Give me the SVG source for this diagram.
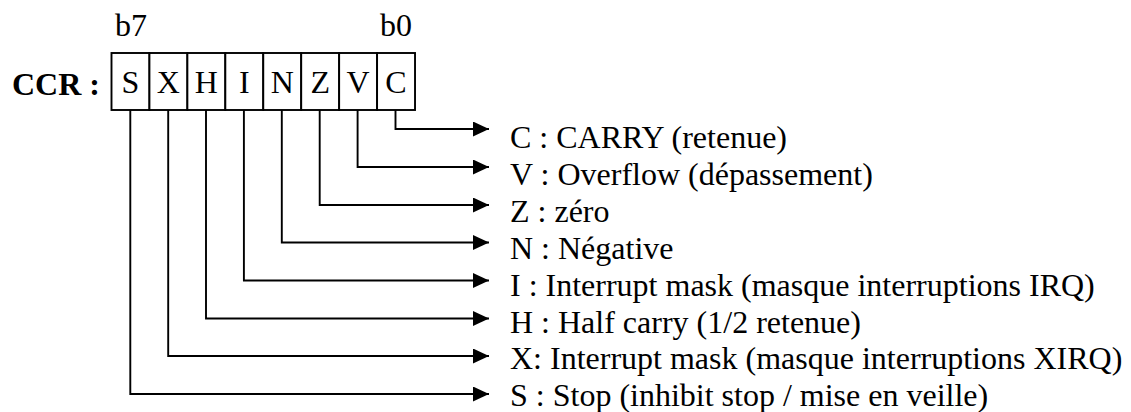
<svg xmlns="http://www.w3.org/2000/svg" width="1131" height="412" viewBox="0 0 1131 412">
<style>
text{font-family:"Liberation Serif","Times New Roman",serif;font-size:32px;fill:#000}
.b{font-weight:bold}
.cell{fill:#fff;stroke:#000;stroke-width:1.9}
.c{text-anchor:middle}
.conn path{fill:none;stroke:#000;stroke-width:1.9;marker-end:url(#ah)}
</style>
<defs>
<marker id="ah" markerUnits="userSpaceOnUse" markerWidth="18" markerHeight="16" refX="16" refY="7.5" orient="auto">
<path d="M0,0 L16,7.5 L0,15 Z" fill="#000"/>
</marker>
</defs>
<g id="label-ccr"><text class="b" x="12" y="95">CCR :</text></g>
<g id="label-b7"><text x="115" y="36">b7</text></g>
<g id="label-b0"><text x="380" y="36">b0</text></g>
<g id="register">
<g id="bit-S"><rect class="cell" x="111.5" y="53" width="37.94" height="57"/><text class="c" x="130.5" y="93">S</text></g>
<g id="bit-X"><rect class="cell" x="149.44" y="53" width="37.94" height="57"/><text class="c" x="168.4" y="93">X</text></g>
<g id="bit-H"><rect class="cell" x="187.38" y="53" width="37.94" height="57"/><text class="c" x="206.3" y="93">H</text></g>
<g id="bit-I"><rect class="cell" x="225.32" y="53" width="37.94" height="57"/><text class="c" x="244.3" y="93">I</text></g>
<g id="bit-N"><rect class="cell" x="263.26" y="53" width="37.94" height="57"/><text class="c" x="282.2" y="93">N</text></g>
<g id="bit-Z"><rect class="cell" x="301.2" y="53" width="37.94" height="57"/><text class="c" x="320.2" y="93">Z</text></g>
<g id="bit-V"><rect class="cell" x="339.14" y="53" width="37.94" height="57"/><text class="c" x="358.1" y="93">V</text></g>
<g id="bit-C"><rect class="cell" x="377.08" y="53" width="37.94" height="57"/><text class="c" x="396" y="93">C</text></g>
</g>
<g id="connectors" class="conn">
<path d="M395.5,110 V129 H489"/>
<path d="M357.6,110 V167 H489"/>
<path d="M319.7,110 V205 H489"/>
<path d="M281.8,110 V242.5 H489"/>
<path d="M243.9,110 V280.5 H489"/>
<path d="M206,110 V318.5 H489"/>
<path d="M168.2,110 V356 H489"/>
<path d="M130.3,110 V394 H489"/>
</g>
<g id="desc-C"><text x="510" y="148">C : CARRY (retenue)</text></g>
<g id="desc-V"><text x="510" y="185">V : Overflow (dépassement)</text></g>
<g id="desc-Z"><text x="510" y="222">Z : zéro</text></g>
<g id="desc-N"><text x="510" y="259">N : Négative</text></g>
<g id="desc-I"><text x="510" y="296">I : Interrupt mask (masque interruptions IRQ)</text></g>
<g id="desc-H"><text x="510" y="333">H : Half carry (1/2 retenue)</text></g>
<g id="desc-X"><text x="510" y="369">X: Interrupt mask (masque interruptions XIRQ)</text></g>
<g id="desc-S"><text x="510" y="406">S : Stop (inhibit stop / mise en veille)</text></g>
</svg>
